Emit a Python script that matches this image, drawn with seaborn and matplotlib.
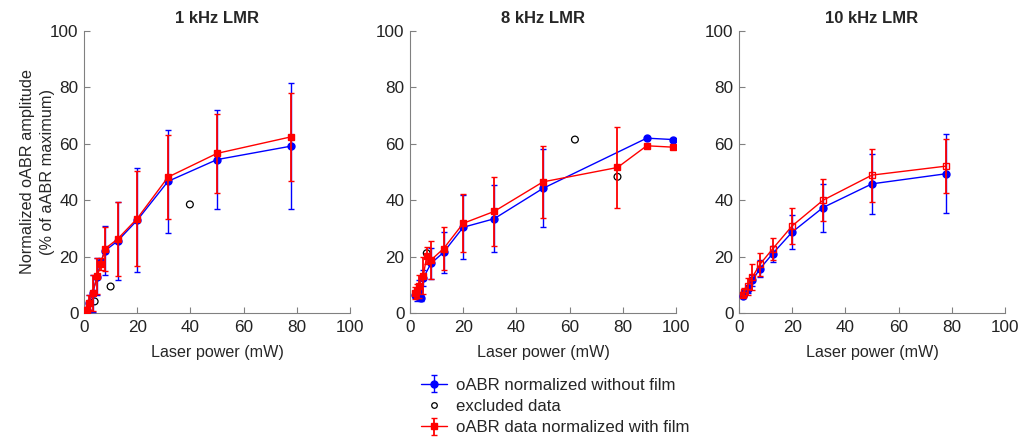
import matplotlib
matplotlib.use("Agg")
import matplotlib.pyplot as plt
import numpy as np
import pandas as pd
import seaborn as sns

# ---- 1 kHz LMR ----
x_1k = [1.3, 2.0, 3.2, 5.0, 6.3, 7.9, 12.6, 20, 31.6, 50, 78]
blue_1k = [0.9, 3.5, 7.0, 12.9, 18.2, 22.1, 25.5, 32.9, 46.7, 54.4, 59.2]
blue_1k_sd = [1.0, 3.0, 6.5, 6.5, 1.0, 8.8, 13.9, 18.5, 18.2, 17.5, 22.4]
red_1k = [1.2, 3.7, 7.2, 13.1, 17.4, 22.8, 26.2, 33.5, 48.2, 56.6, 62.5]
red_1k_sd = [1.0, 2.8, 6.4, 6.4, 2.0, 7.8, 13.0, 16.7, 15.0, 13.9, 15.6]
excl_1k_x = [4.0, 10.0, 39.8]
excl_1k_y = [4.1, 9.4, 38.5]

# ---- 8 kHz LMR ----
x_8k_blue = [2.0, 2.5, 3.2, 4.0, 5.0, 7.9, 12.6, 20, 31.6, 50, 89, 99]
blue_8k = [6.3, 5.9, 8.2, 5.3, 12.4, 17.6, 21.5, 30.4, 33.4, 44.2, 62.0, 61.5]
blue_8k_sd = [1.0, 1.5, 3.4, 1.0, 3.0, 5.6, 7.4, 11.4, 11.9, 13.8, 0, 0]
x_8k_red = [2.0, 2.5, 3.2, 5.0, 6.3, 7.9, 12.6, 20, 31.6, 50, 78, 89, 99]
red_8k = [7.1, 7.8, 9.4, 13.2, 20.3, 18.8, 22.8, 31.8, 36.0, 46.5, 51.6, 59.3, 58.8]
red_8k_sd = [2.0, 2.5, 4.0, 6.5, 3.0, 6.6, 7.7, 10.3, 12.2, 12.8, 14.2, 0, 0]
excl_8k_x = [6.3, 62, 78]
excl_8k_y = [21.2, 61.5, 48.3]

# ---- 10 kHz LMR ----
x_10k = [1.6, 2.0, 3.2, 5.0, 7.9, 12.6, 20, 31.6, 50, 78]
blue_10k = [6.2, 7.2, 8.6, 11.6, 15.7, 21.0, 28.7, 37.4, 45.8, 49.4]
blue_10k_sd = [1.0, 1.0, 1.5, 2.0, 3.0, 2.9, 6.0, 8.5, 10.7, 14.0]
red_10k = [6.5, 7.5, 9.5, 12.7, 17.3, 22.7, 30.9, 40.0, 48.9, 52.1]
red_10k_sd = [1.0, 1.5, 3.0, 4.7, 4.1, 3.8, 6.4, 7.5, 9.4, 9.5]

titles = ["1 kHz LMR", "8 kHz LMR", "10 kHz LMR"]
label_blue = "oABR normalized without film"
label_excl = "excluded data"
label_red = "oABR data normalized with film"

sns.set_theme(style="ticks")
plt.rcParams["font.family"] = ["Liberation Sans", "DejaVu Sans"]
plt.rcParams["font.size"] = 10

fig = plt.figure(figsize=(10.22, 4.37), dpi=100)
lefts = [84, 410, 739]
axes = [fig.add_axes([l / 1022, 124 / 437, 266 / 1022, 282 / 437]) for l in lefts]

panels = [
    (x_1k, blue_1k, blue_1k_sd, x_1k, red_1k, red_1k_sd, excl_1k_x, excl_1k_y, True),
    (x_8k_blue, blue_8k, blue_8k_sd, x_8k_red, red_8k, red_8k_sd, excl_8k_x, excl_8k_y, True),
    (x_10k, blue_10k, blue_10k_sd, x_10k, red_10k, red_10k_sd, [], [], False),
]

handles = []
for ax, title, p in zip(axes, titles, panels):
    xb, yb, sb, xr, yr, sr, ex, ey, filled = p
    hb = ax.errorbar(xb, yb, yerr=sb, fmt="-o", color="#0000ff", lw=1.0,
                     ms=5, capsize=2.5, elinewidth=1.0, capthick=1.0, zorder=3)
    if len(ex):
        df = pd.DataFrame({"x": ex, "y": ey})
        sns.scatterplot(data=df, x="x", y="y", ax=ax, marker="o", s=24,
                        facecolor="none", edgecolor="black", linewidth=0.9, zorder=2)
    hr = ax.errorbar(xr, yr, yerr=sr, fmt="-s", color="#ff0000", lw=1.0,
                     ms=4.5, capsize=2.5, elinewidth=1.3, capthick=1.0,
                     mfc="#ff0000" if filled else "none", zorder=4)
    handles.append((hb, hr))
    ax.set_xlim(0, 100)
    ax.set_ylim(0, 100)
    ax.set_xticks(np.arange(0, 101, 20))
    ax.set_yticks(np.arange(0, 101, 20))
    ax.set_title(title, fontsize=12, fontweight="bold", pad=6)
    ax.set_xlabel("Laser power (mW)", fontsize=11.6, labelpad=7)
    ax.set_ylabel("")
    sns.despine(ax=ax)
    for s in ["left", "bottom"]:
        ax.spines[s].set_color("#808080")
        ax.spines[s].set_linewidth(0.8)
    ax.tick_params(direction="in", length=4, width=0.8, color="#808080",
                   labelsize=12.3, labelcolor="#222222")
    ax.tick_params(axis="x", pad=5)
    ax.tick_params(axis="y", pad=4)

axes[0].set_ylabel("Normalized oABR amplitude\n(% of aABR maximum)", fontsize=11.7,
                   labelpad=-4, linespacing=1.45)

excl_handle = plt.Line2D([], [], ls="none", marker="o", ms=4, mfc="none",
                         mec="black", mew=0.9)
fig.legend([handles[0][0], excl_handle, handles[0][1]],
           [label_blue, label_excl, label_red],
           loc="center", bbox_to_anchor=(0.543, 0.07), frameon=False,
           fontsize=12.1, handlelength=1.6, labelspacing=0.38, handletextpad=0.5)

fig.savefig("out.png", dpi=100)
